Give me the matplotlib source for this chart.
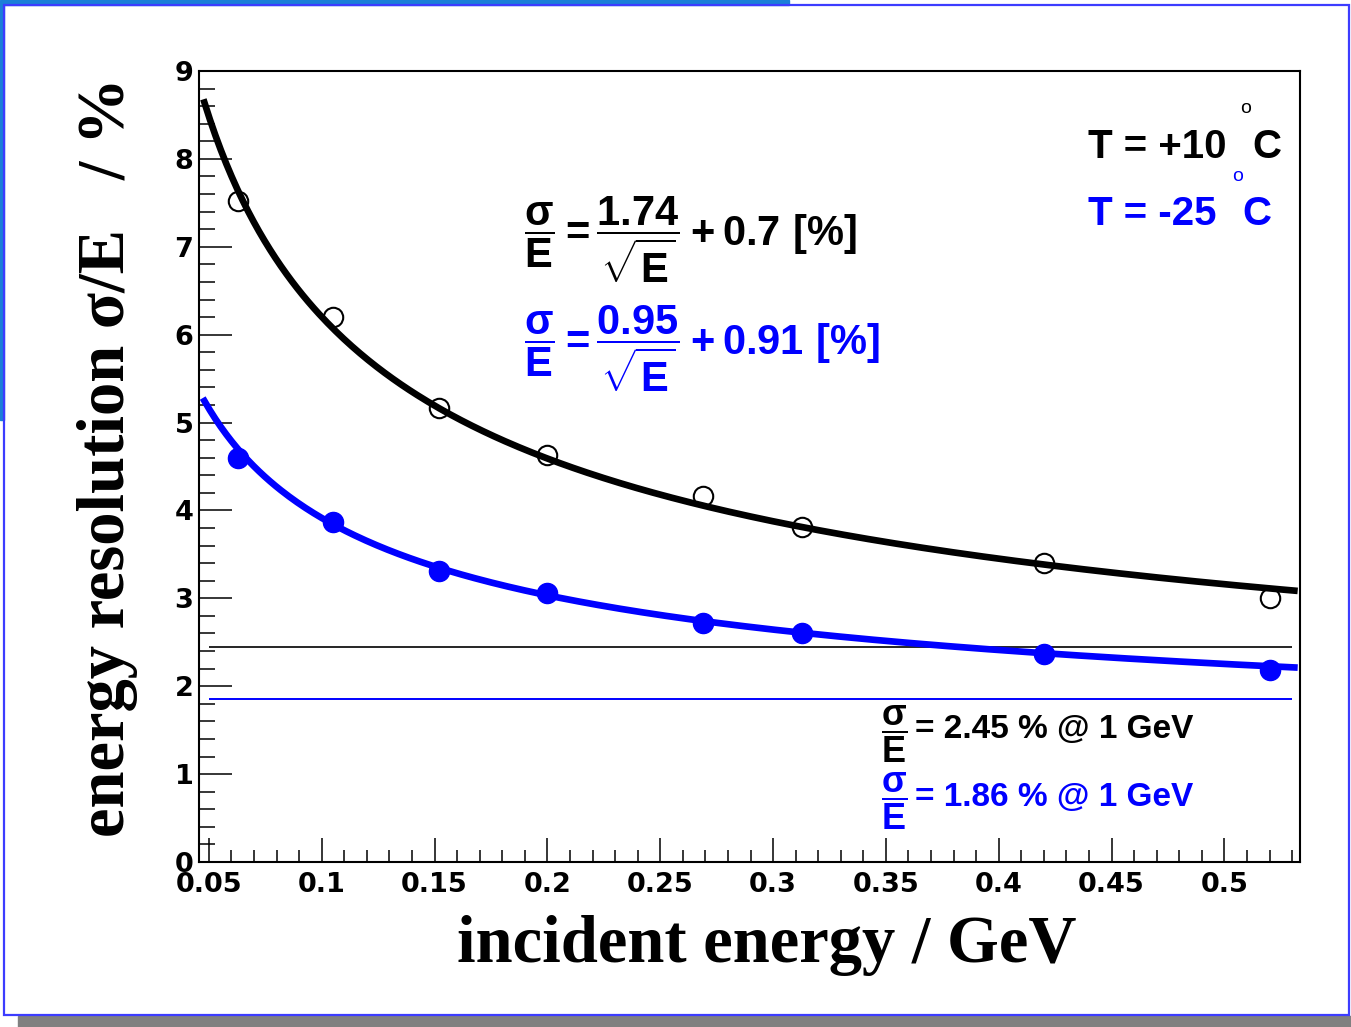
import numpy as np
import matplotlib.pyplot as plt
from matplotlib.patches import Rectangle
from matplotlib.ticker import MultipleLocator

# measured points, incident energy in GeV and resolution in %
energy = [0.063, 0.105, 0.152, 0.200, 0.269, 0.313, 0.420, 0.520]
res_warm = [7.52, 6.20, 5.16, 4.63, 4.17, 3.81, 3.40, 3.00]   # T = +10 C
res_cold = [4.60, 3.87, 3.31, 3.06, 2.72, 2.61, 2.37, 2.19]   # T = -25 C

# fit results: sigma/E = a / sqrt(E) + b
fit_warm = (1.74, 0.7)
fit_cold = (0.95, 0.91)
fit_range = (0.048, 0.531)
at_1gev_warm = 2.45
at_1gev_cold = 1.86

xticks = [0.05, 0.1, 0.15, 0.2, 0.25, 0.3, 0.35, 0.4, 0.45, 0.5]
yticks = list(range(10))

BLUE = '#0000ff'
W, H = 1351, 1027

plt.rcParams['mathtext.fontset'] = 'custom'
plt.rcParams['mathtext.rm'] = 'Liberation Sans:bold'
plt.rcParams['mathtext.it'] = 'Liberation Sans:bold'
plt.rcParams['mathtext.bf'] = 'Liberation Sans:bold'
plt.rcParams['mathtext.sf'] = 'Liberation Sans:bold'


def fx(px):
    return px / W


def fy(py):
    return 1 - py / H


fig = plt.figure(figsize=(W / 100, H / 100), dpi=100, facecolor='white')

# screenshot frame around the canvas
fig.patches.append(Rectangle((0, fy(5)), fx(789), 1 - fy(5), transform=fig.transFigure,
                             color='#1a7fd8', zorder=0))
fig.patches.append(Rectangle((0, fy(420)), fx(4), fy(5) - fy(420), transform=fig.transFigure,
                             color='#1a7fd8', zorder=0))
fig.patches.append(Rectangle((fx(18), 0), 1 - fx(18), fy(1016), transform=fig.transFigure,
                             color='#808080', zorder=0))
fig.patches.append(Rectangle((fx(4), fy(1015)), fx(1349) - fx(4), fy(5) - fy(1015),
                             transform=fig.transFigure, facecolor='none',
                             edgecolor='#3c3cff', lw=1.6, zorder=1))

ax = fig.add_axes([fx(199), fy(862), fx(1300) - fx(199), fy(71) - fy(862)])
ax.set_xlim(0.0456, 0.5335)
ax.set_ylim(0, 9)

e = np.linspace(fit_range[0], fit_range[1], 400)
ax.plot(e, fit_warm[0] / np.sqrt(e) + fit_warm[1], color='black', lw=4.8, zorder=3)
ax.plot(e, fit_cold[0] / np.sqrt(e) + fit_cold[1], color=BLUE, lw=4.8, zorder=3)

ax.plot(energy, res_warm, 'o', ms=14, mfc='none', mec='black', mew=1.5, zorder=4)
ax.plot(energy, res_cold, 'o', ms=14.5, mfc=BLUE, mec=BLUE, zorder=4)

ax.hlines(at_1gev_warm, 0.05, 0.53, color='black', lw=1.2, zorder=2)
ax.hlines(at_1gev_cold, 0.05, 0.53, color=BLUE, lw=1.4, zorder=2)

# ROOT style axes: ticks inside, only left and bottom
ax.set_xticks(xticks)
ax.set_xticklabels([f'{t:g}' for t in xticks])
ax.set_yticks(yticks)
ax.xaxis.set_minor_locator(MultipleLocator(0.01))
ax.yaxis.set_minor_locator(MultipleLocator(0.2))
ax.tick_params(which='both', direction='in', top=False, right=False, width=1.1)
ax.tick_params(axis='x', which='major', length=17, pad=7)
ax.tick_params(axis='x', which='minor', length=8.6)
ax.tick_params(axis='y', which='major', length=24, pad=4)
ax.tick_params(axis='y', which='minor', length=11.5)
for lab in ax.get_xticklabels() + ax.get_yticklabels():
    lab.set_fontfamily('DejaVu Sans')
    lab.set_fontweight('bold')
    lab.set_fontsize(19.5)
for sp in ax.spines.values():
    sp.set_linewidth(1.5)

# axis titles
fig.text(fx(767), fy(962), 'incident energy / GeV', family='Liberation Serif',
         weight='bold', fontsize=48, ha='center', va='baseline')
fig.text(fx(108), fy(457), 'energy resolution σ/E   / %', family='Liberation Serif',
         weight='bold', fontsize=48, ha='center', va='center', rotation=90)

# temperatures
txt = dict(family='Liberation Sans', weight='bold', fontsize=29, va='baseline')
deg = dict(family='Liberation Sans', fontsize=14, ha='center', va='baseline')
fig.text(fx(1088), fy(158), 'T = +10', color='black', **txt)
fig.text(fx(1252), fy(158), 'C', color='black', **txt)
fig.text(fx(1246), fy(113), 'o', color='black', **deg)
fig.text(fx(1088), fy(225), 'T = -25', color=BLUE, **txt)
fig.text(fx(1242), fy(225), 'C', color=BLUE, **txt)
fig.text(fx(1238), fy(181), 'o', color=BLUE, **deg)

# fit formulas
fig.text(fx(524), fy(240),
         r'$\dfrac{\sigma}{\mathrm{E}} = \dfrac{%.2f}{\sqrt{\mathrm{E}}} + %.1f\ [\%%]$'
         % fit_warm, color='black', fontsize=30, ha='left', va='center')
fig.text(fx(524), fy(349),
         r'$\dfrac{\sigma}{\mathrm{E}} = \dfrac{%.2f}{\sqrt{\mathrm{E}}} + %.2f\ [\%%]$'
         % fit_cold, color=BLUE, fontsize=30, ha='left', va='center')

# resolution at 1 GeV
frac = r'$\dfrac{\sigma}{\mathrm{E}}$'
fig.text(fx(881), fy(734), frac, color='black', fontsize=26, ha='left', va='center')
fig.text(fx(915), fy(738), '= %.2f %% @ 1 GeV' % at_1gev_warm, color='black',
         family='Liberation Sans', weight='bold', fontsize=24, ha='left', va='baseline')
fig.text(fx(881), fy(801), frac, color=BLUE, fontsize=26, ha='left', va='center')
fig.text(fx(915), fy(806), '= %.2f %% @ 1 GeV' % at_1gev_cold, color=BLUE,
         family='Liberation Sans', weight='bold', fontsize=24, ha='left', va='baseline')

fig.savefig('out.png', dpi=100)
